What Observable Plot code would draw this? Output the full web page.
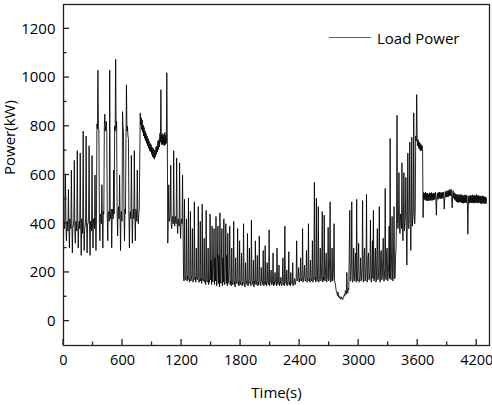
<!DOCTYPE html>
<html><head><meta charset="utf-8">
<script src="https://cdn.jsdelivr.net/npm/d3@7"></script>
<script src="https://cdn.jsdelivr.net/npm/@observablehq/plot@0.6"></script>
<style>body{margin:0;background:#fff} svg{display:block}</style>
</head><body><div id="chart"></div>
<script>
// [time (s), power (kW)], segment by segment
const segA = [[0,1150],[5,400],[10,380],[15,420],[20,600],[25,390],[30,330],[35,410],[40,410],[45,370],[50,540],[55,400],[60,300],[65,420],[70,400],[75,380],[80,620],[85,410],[90,280],[95,390],[100,390],[105,420],[110,660],[115,380],[120,320],[125,410],[130,400],[135,370],[140,700],[145,420],[150,300],[155,390],[160,410],[165,380],[170,690],[175,400],[180,270],[185,420],[190,400],[195,360],[200,780],[205,410],[210,290],[215,380],[220,390],[225,420],[230,760],[235,390],[240,280],[245,400],[250,400],[255,430],[260,720],[265,380],[270,270],[275,410],[280,410],[285,370],[290,680],[295,400],[300,300],[305,420],[310,420],[315,380],[320,600],[325,430],[330,290],[335,420],[340,810],[345,790],[350,1030],[355,800],[360,780],[365,400],[370,330],[375,440],[380,430],[385,400],[390,560],[395,420],[400,300],[405,450],[410,440],[415,800],[420,850],[425,780],[430,800],[435,820],[440,770],[445,420],[450,330],[455,440],[460,450],[465,410],[470,1030],[475,440],[480,420],[485,460],[490,300],[495,430],[500,460],[505,420],[510,620],[515,440],[520,800],[525,780],[530,1075],[535,790],[540,820],[545,440],[550,350],[555,450],[560,470],[565,420],[570,600],[575,440],[580,290],[585,450],[590,450],[595,410],[600,860],[605,800],[610,780],[615,440],[620,330],[625,460],[630,440],[635,750],[640,970],[645,780],[650,800],[655,760],[660,750],[665,430],[670,300],[675,440],[680,450],[685,420],[690,680],[695,450],[700,320],[705,430],[710,460],[715,420],[720,700],[725,450],[730,330],[735,460],[740,450],[745,410],[750,620],[755,450],[760,400],[765,440],[770,460]];
const segB = [[780,855],[785,805],[790,835],[795,785],[800,825],[805,775],[810,805],[815,760],[820,795],[825,750],[830,780],[835,740],[840,770],[845,730],[850,760],[855,720],[860,750],[865,710],[870,740],[875,700],[880,730],[885,695],[890,725],[895,685],[900,715],[905,675],[910,710],[915,670],[920,705],[925,665],[930,700],[935,675],[940,715],[945,685],[950,720],[955,695],[960,740],[965,705],[970,745],[975,715],[980,770],[985,735],[990,950],[995,725],[1000,765],[1005,725],[1010,770],[1015,725],[1020,765],[1025,720],[1030,775],[1035,725],[1040,765],[1045,730],[1050,1020],[1055,760],[1060,320]];
const segC = [[1065,430],[1070,560],[1075,410],[1080,420],[1085,440],[1090,640],[1095,400],[1100,380],[1105,420],[1110,430],[1115,400],[1120,700],[1125,420],[1130,390],[1135,430],[1140,420],[1145,400],[1150,670],[1155,410],[1160,360],[1165,420],[1170,410],[1175,390],[1180,650],[1185,400],[1190,340],[1195,410],[1200,420],[1205,400],[1210,600]];
const segD = [[1220,180],[1225,165],[1230,500],[1235,175],[1240,170],[1245,190],[1250,420],[1255,165],[1260,185],[1265,170],[1270,505],[1275,180],[1280,160],[1285,175],[1290,450],[1295,165],[1300,175],[1305,190],[1310,380],[1315,160],[1320,165],[1325,180],[1330,490],[1335,170],[1340,180],[1345,160],[1350,300],[1355,175],[1360,170],[1365,185],[1370,470],[1375,160],[1380,160],[1385,175],[1390,410],[1395,165],[1400,175],[1405,155],[1410,480],[1415,170],[1420,165],[1425,180],[1430,340],[1435,160],[1440,170],[1445,150],[1450,455],[1455,175],[1460,160],[1465,165],[1470,300],[1475,150],[1480,170],[1485,160],[1490,440],[1495,170],[1500,250],[1505,150],[1510,390],[1515,165],[1520,160],[1525,240],[1530,380],[1535,150],[1540,260],[1545,165],[1550,430],[1555,145],[1560,150],[1565,250],[1570,390],[1575,155],[1580,270],[1585,140],[1590,445],[1595,165],[1600,155],[1605,260],[1610,380],[1615,145],[1620,260],[1625,160],[1630,420],[1635,150],[1640,150],[1645,240],[1650,400],[1655,155],[1660,270],[1665,145],[1670,360],[1675,160],[1680,155],[1685,230],[1690,390],[1695,150],[1700,165],[1705,145],[1710,300],[1715,160],[1720,150],[1725,170],[1730,410],[1735,150],[1740,160],[1745,140],[1750,260],[1755,165],[1760,155],[1765,170],[1770,380],[1775,150],[1780,165],[1785,145],[1790,330],[1795,160],[1800,150],[1805,170],[1810,280],[1815,145],[1820,160],[1825,150],[1830,400],[1835,165],[1840,155],[1845,140],[1850,240],[1855,160],[1860,165],[1865,150],[1870,360],[1875,145],[1880,150],[1885,170],[1890,300],[1895,155],[1900,160],[1905,145],[1910,415],[1915,165],[1920,155],[1925,150],[1930,250],[1935,140],[1940,165],[1945,155],[1950,330],[1955,150],[1960,150],[1965,170],[1970,270],[1975,145],[1980,160],[1985,150],[1990,350],[1995,165],[2000,155],[2005,145],[2010,220],[2015,160],[2020,160],[2025,150],[2030,290],[2035,145],[2040,150],[2045,165],[2050,310],[2055,150],[2060,160],[2065,145],[2070,240],[2075,160],[2080,155],[2085,150],[2090,375],[2095,145],[2100,160],[2105,165],[2110,210],[2115,150],[2120,150],[2125,160],[2130,280],[2135,145],[2140,160],[2145,150],[2150,200],[2155,165],[2160,155],[2165,145],[2170,300],[2175,155],[2180,150],[2185,165],[2190,230],[2195,145],[2200,160],[2205,155],[2210,180],[2215,145],[2220,150],[2225,165],[2230,260],[2235,150],[2240,155],[2245,145],[2250,390],[2255,160],[2260,160],[2265,150],[2270,210],[2275,145],[2280,150],[2285,165],[2290,285],[2295,150],[2300,160],[2305,145],[2310,200],[2315,160],[2320,155],[2325,150],[2330,240],[2335,145],[2340,150],[2345,165],[2350,175],[2355,150],[2360,160],[2365,175],[2370,330],[2375,165],[2380,170],[2385,180],[2390,220],[2395,160],[2400,175],[2405,165],[2410,260],[2415,180],[2420,165],[2425,175],[2430,380],[2435,160],[2440,175],[2445,185],[2450,230],[2455,165],[2460,165],[2465,180],[2470,290],[2475,160],[2480,170],[2485,185],[2490,400],[2495,165],[2500,175],[2505,160],[2510,250],[2515,180],[2520,165],[2525,175],[2530,330],[2535,160],[2540,175],[2545,185],[2550,570],[2555,170],[2560,180],[2565,160],[2570,505],[2575,175],[2580,165],[2585,250],[2590,470],[2595,160],[2600,175],[2605,185],[2610,300],[2615,165],[2620,170],[2625,240],[2630,450],[2635,160],[2640,180],[2645,170],[2650,435],[2655,165],[2660,165],[2665,230],[2670,280],[2675,160],[2680,175],[2685,185],[2690,385],[2695,165],[2700,170],[2705,260],[2710,490],[2715,160],[2720,165],[2725,180],[2730,300],[2735,165],[2740,175],[2745,230],[2750,400],[2755,165],[2760,160]];
const segDip = [[2765,145],[2770,130],[2775,120],[2780,115],[2785,105],[2790,120],[2795,100],[2800,105],[2805,95],[2810,100],[2815,90],[2820,92],[2825,100],[2830,95],[2835,88],[2840,90],[2845,100],[2850,100],[2855,110],[2860,105],[2865,125],[2870,120],[2875,110],[2880,200],[2885,120],[2890,115],[2895,135],[2900,130]];
const segE = [[2910,455],[2915,165],[2920,170],[2925,230],[2930,490],[2935,160],[2940,160],[2945,180],[2950,300],[2955,165],[2960,175],[2965,250],[2970,280],[2975,160],[2980,500],[2985,175],[2990,165],[2995,240],[3000,320],[3005,160],[3010,170],[3015,185],[3020,260],[3025,165],[3030,180],[3035,220],[3040,495],[3045,170],[3050,160],[3055,270],[3060,300],[3065,165],[3070,175],[3075,230],[3080,520],[3085,160],[3090,165],[3095,260],[3100,280],[3105,170],[3110,175],[3115,210],[3120,415],[3125,165],[3130,160],[3135,240],[3140,330],[3145,175],[3150,455],[3155,165],[3160,170],[3165,250],[3170,300],[3175,160],[3180,165],[3185,270],[3190,380],[3195,170],[3200,175],[3205,230],[3210,470],[3215,165],[3220,160],[3225,280],[3230,290],[3235,170],[3240,180],[3245,260],[3250,340],[3255,165],[3260,165],[3265,220],[3270,545],[3275,175],[3280,170],[3285,290],[3290,300],[3295,165],[3300,180],[3305,240],[3310,390],[3315,175],[3320,750],[3325,180],[3330,170],[3335,280],[3340,430],[3345,170],[3350,165],[3355,300],[3360,470],[3365,175],[3370,175],[3375,260],[3380,300]];
const segF = [[3385,420],[3390,845],[3395,400],[3400,380],[3405,430],[3410,610],[3415,390],[3420,360],[3425,440],[3430,420],[3435,380],[3440,650],[3445,410],[3450,330],[3455,420],[3460,610],[3465,370],[3470,400],[3475,440],[3480,590],[3485,380],[3490,230],[3495,420],[3500,690],[3505,390],[3510,380],[3515,450],[3520,735],[3525,400],[3530,290],[3535,430],[3540,755],[3545,390],[3550,420],[3555,450],[3560,855],[3565,430],[3570,400],[3575,450]];
const segG = [[3580,760],[3585,740],[3590,930],[3595,745],[3600,720],[3605,745],[3610,710],[3615,735],[3620,705],[3625,730],[3630,700],[3635,725],[3640,700],[3645,720],[3650,705],[3655,425]];
const segH = [[3660,528],[3665,500],[3670,525],[3675,497],[3680,530],[3685,495],[3690,524],[3695,494],[3700,526],[3705,495],[3710,522],[3715,493],[3720,527],[3725,497],[3730,525],[3735,496],[3740,528],[3745,495],[3750,523],[3755,497],[3760,526],[3765,498],[3770,524],[3775,500],[3780,530],[3785,500],[3790,435],[3795,505],[3800,526],[3805,500],[3810,528],[3815,503],[3820,530],[3825,505],[3830,528],[3835,502],[3840,527],[3845,503],[3850,529],[3855,505],[3860,530],[3865,505],[3870,460],[3875,507],[3880,533],[3885,508],[3890,531],[3895,510],[3900,536],[3905,510],[3910,535],[3915,512],[3920,540],[3925,515],[3930,538],[3935,515],[3940,542],[3945,512],[3950,465],[3955,510],[3960,536],[3965,505],[3970,528],[3975,500],[3980,524],[3985,495],[3990,520],[3995,490],[4000,521],[4005,488],[4010,518],[4015,487],[4020,520],[4025,489],[4030,517],[4035,488],[4040,521],[4045,486],[4050,516],[4055,486],[4060,518],[4065,484],[4070,515],[4075,485],[4080,519],[4085,487],[4090,516],[4095,486],[4100,517],[4105,490],[4110,357],[4115,488],[4120,514],[4125,484],[4130,515],[4135,486],[4140,517],[4145,485],[4150,515],[4155,487],[4160,519],[4165,484],[4170,514],[4175,486],[4180,517],[4185,485],[4190,516],[4195,488],[4200,520],[4205,484],[4210,515],[4215,486],[4220,516],[4225,487],[4230,513],[4235,484],[4240,514],[4245,482],[4250,512],[4255,483],[4260,515],[4265,484],[4270,512],[4275,483],[4280,511],[4285,482],[4290,510],[4295,483],[4300,505]];

const xTicks = [0,600,1200,1800,2400,3000,3600,4200];
const xMinor = [300,900,1500,2100,2700,3300,3900];
const yTicks = [0,200,400,600,800,1000,1200];
const yMinor = [100,300,500,700,900,1100];
const seriesName = "Load Power";
const xTitle = "Time(s)";
const yTitle = "Power(kW)";

const data = [...segA,...segB,...segC,...segD,...segDip,...segE,...segF,...segG,...segH].map(([t,p]) => ({t,p}));

const font = "'Open Sans', sans-serif";
const chart = Plot.plot({
  width: 492, height: 405,
  marginLeft: 63, marginRight: 3, marginTop: 4, marginBottom: 60,
  style: {fontFamily: font, fontSize: "15px", color: "#000", background: "#fff"},
  x: {domain: [0, 4330]},
  y: {domain: [-100, 1300]},
  marks: [
    Plot.line(data, {x: "t", y: "p", stroke: "#000", strokeWidth: 0.85}),
    Plot.axisX({ticks: xTicks, tickSize: 0, tickPadding: 9, tickFormat: d => String(d), label: null, fontSize: 14.5}),
    Plot.axisY({ticks: yTicks, tickSize: 0, tickPadding: 8, tickFormat: d => String(d), label: null, fontSize: 15}),
    Plot.text([xTitle], {frameAnchor: "bottom", dy: 48, text: d => d, fontSize: 15, lineAnchor: "middle"}),
    Plot.text([yTitle], {frameAnchor: "left", dx: -53, rotate: -90, text: d => d, fontSize: 15, lineAnchor: "middle"}),
    Plot.frame({stroke: "#222", strokeWidth: 1.3})
  ]
});

// inward ticks placed through the chart's own scales
const sx = chart.scale("x"), sy = chart.scale("y");
const bottom = sy.range[0], left = sx.range[0];
const svg = d3.select(chart);
const tg = svg.append("g").attr("stroke", "#222").attr("stroke-width", 1.3);
xTicks.forEach(v => tg.append("line").attr("x1", sx.apply(v)).attr("x2", sx.apply(v)).attr("y1", bottom).attr("y2", bottom - 6));
xMinor.forEach(v => tg.append("line").attr("x1", sx.apply(v)).attr("x2", sx.apply(v)).attr("y1", bottom).attr("y2", bottom - 3.5));
yTicks.forEach(v => tg.append("line").attr("y1", sy.apply(v)).attr("y2", sy.apply(v)).attr("x1", left).attr("x2", left + 6));
yMinor.forEach(v => tg.append("line").attr("y1", sy.apply(v)).attr("y2", sy.apply(v)).attr("x1", left).attr("x2", left + 3.5));

// legend
const lg = svg.append("g");
lg.append("line").attr("x1", 329).attr("x2", 371).attr("y1", 37.5).attr("y2", 37.5)
  .attr("stroke", "#333").attr("stroke-width", 0.8);
lg.append("text").attr("x", 377).attr("y", 43.5).attr("text-anchor", "start").attr("font-family", font).attr("font-size", 15)
  .attr("fill", "#000").text(seriesName);

document.getElementById("chart").append(chart);
</script>
</body></html>
